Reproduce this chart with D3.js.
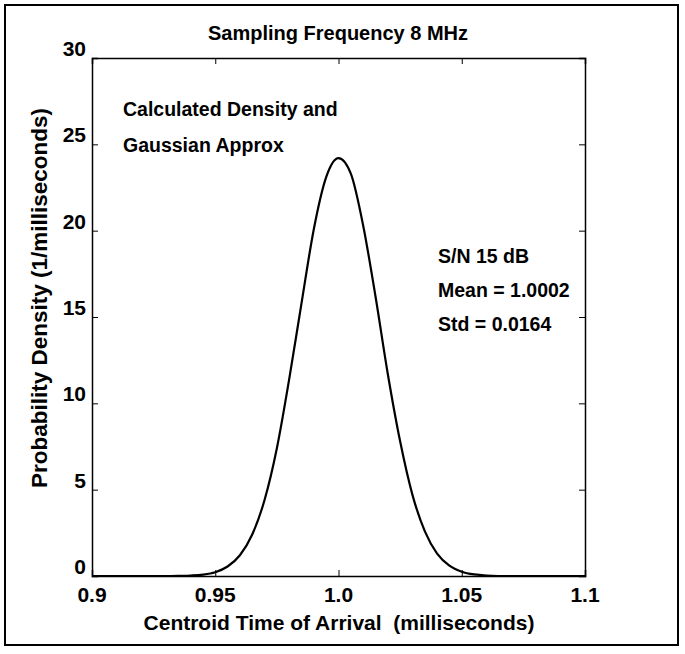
<!DOCTYPE html>
<html>
<head>
  <script src="https://cdnjs.cloudflare.com/ajax/libs/d3/7.8.5/d3.min.js"></script>
  <style>
    body { margin: 0; background: #fff; }
    text { font-family: "Liberation Sans", Arial, sans-serif; font-weight: bold; fill: #000; white-space: pre; }
    .tick-label { font-size: 21px; }
    .note { font-size: 19.5px; }
  </style>
</head>
<body>
  <div id="graph"></div>
  <script>
    // values
    const timeMs = [0.90, 0.93, 0.935, 0.94, 0.945, 0.95, 0.955, 0.96, 0.965, 0.97, 0.975, 0.98,
                    0.985, 0.99, 0.995, 1.0, 1.005, 1.01, 1.015, 1.02, 1.025, 1.03, 1.035,
                    1.04, 1.045, 1.05, 1.055, 1.06, 1.07, 1.10];
    const density = [0, 0, 0.01, 0.03, 0.08, 0.22, 0.55, 1.2, 2.4, 4.4, 7.4, 11.4,
                     15.8, 20.1, 23.1, 24.2, 23.3, 20.3, 16.2, 11.7, 7.8, 4.7, 2.6,
                     1.3, 0.6, 0.25, 0.09, 0.03, 0, 0];
    const xTicks = [0.9, 0.95, 1.0, 1.05, 1.1];
    const xTickLabels = ["0.9", "0.95", "1.0", "1.05", "1.1"];
    const yTicks = [0, 5, 10, 15, 20, 25, 30];
    const notesLeft = ["Calculated Density and", "Gaussian Approx"];
    const notesRight = ["S/N 15 dB", "Mean = 1.0002", "Std = 0.0164"];

    const W = 685, H = 654;
    const margin = {top: 58, right: 100, bottom: 78, left: 92};
    const width = W - margin.left - margin.right;
    const height = H - margin.top - margin.bottom;

    const root = d3.select("#graph").append("svg")
      .attr("width", W)
      .attr("height", H);

    // outer frame of the scanned figure
    root.append("rect")
      .attr("x", 5).attr("y", 5)
      .attr("width", 673).attr("height", 640)
      .attr("fill", "none")
      .attr("stroke", "#000")
      .attr("stroke-width", 2);

    const svg = root.append("g")
      .attr("transform", `translate(${margin.left},${margin.top})`);

    const x = d3.scaleLinear().domain([0.9, 1.1]).range([0, width]);
    const y = d3.scaleLinear().domain([0, 30]).range([height, 0]);

    // axes with inward ticks, labels drawn separately
    const tickLen = 6;
    svg.append("g")
      .attr("transform", `translate(0,${height})`)
      .call(d3.axisBottom(x).tickValues(xTicks).tickSize(-tickLen).tickFormat(""));
    svg.append("g")
      .call(d3.axisTop(x).tickValues(xTicks).tickSize(-tickLen).tickFormat(""));
    svg.append("g")
      .call(d3.axisLeft(y).tickValues(yTicks).tickSize(-tickLen).tickFormat(""));
    svg.append("g")
      .attr("transform", `translate(${width},0)`)
      .call(d3.axisRight(y).tickValues(yTicks).tickSize(-tickLen).tickFormat(""));
    svg.selectAll(".domain").attr("stroke", "#000").attr("stroke-width", 1.5);
    svg.selectAll(".tick line").attr("stroke", "#000");

    svg.selectAll(".xlab")
      .data(xTicks)
      .join("text")
        .attr("class", "tick-label")
        .attr("x", d => x(d))
        .attr("y", height + 26)
        .attr("text-anchor", "middle")
        .text((d, i) => xTickLabels[i]);

    svg.selectAll(".ylab")
      .data(yTicks)
      .join("text")
        .attr("class", "tick-label")
        .attr("x", -6)
        .attr("y", d => y(d) - 2)
        .attr("text-anchor", "end")
        .text(d => d);

    // density curve
    const line = d3.line()
      .x((d, i) => x(timeMs[i]))
      .y(d => y(d))
      .curve(d3.curveMonotoneX);

    svg.append("path")
      .datum(density)
      .attr("fill", "none")
      .attr("stroke", "#000")
      .attr("stroke-width", 2.2)
      .attr("d", line);

    // annotations
    svg.selectAll(".noteL")
      .data(notesLeft)
      .join("text")
        .attr("class", "note")
        .attr("x", 31)
        .attr("y", (d, i) => 58 + i * 36)
        .text(d => d);

    svg.selectAll(".noteR")
      .data(notesRight)
      .join("text")
        .attr("class", "note")
        .attr("x", 346)
        .attr("y", (d, i) => 205 + i * 34)
        .text(d => d);

    // title and axis labels
    root.append("text")
      .attr("x", 338).attr("y", 40)
      .attr("text-anchor", "middle")
      .style("font-size", "20px")
      .text("Sampling Frequency 8 MHz");

    root.append("text")
      .attr("x", 339).attr("y", 630)
      .attr("text-anchor", "middle")
      .style("font-size", "21px")
      .text("Centroid Time of Arrival  (milliseconds)");

    root.append("text")
      .attr("transform", "translate(47,298) rotate(-90)")
      .attr("text-anchor", "middle")
      .style("font-size", "22.5px")
      .text("Probability Density (1/milliseconds)");
  </script>
</body>
</html>
